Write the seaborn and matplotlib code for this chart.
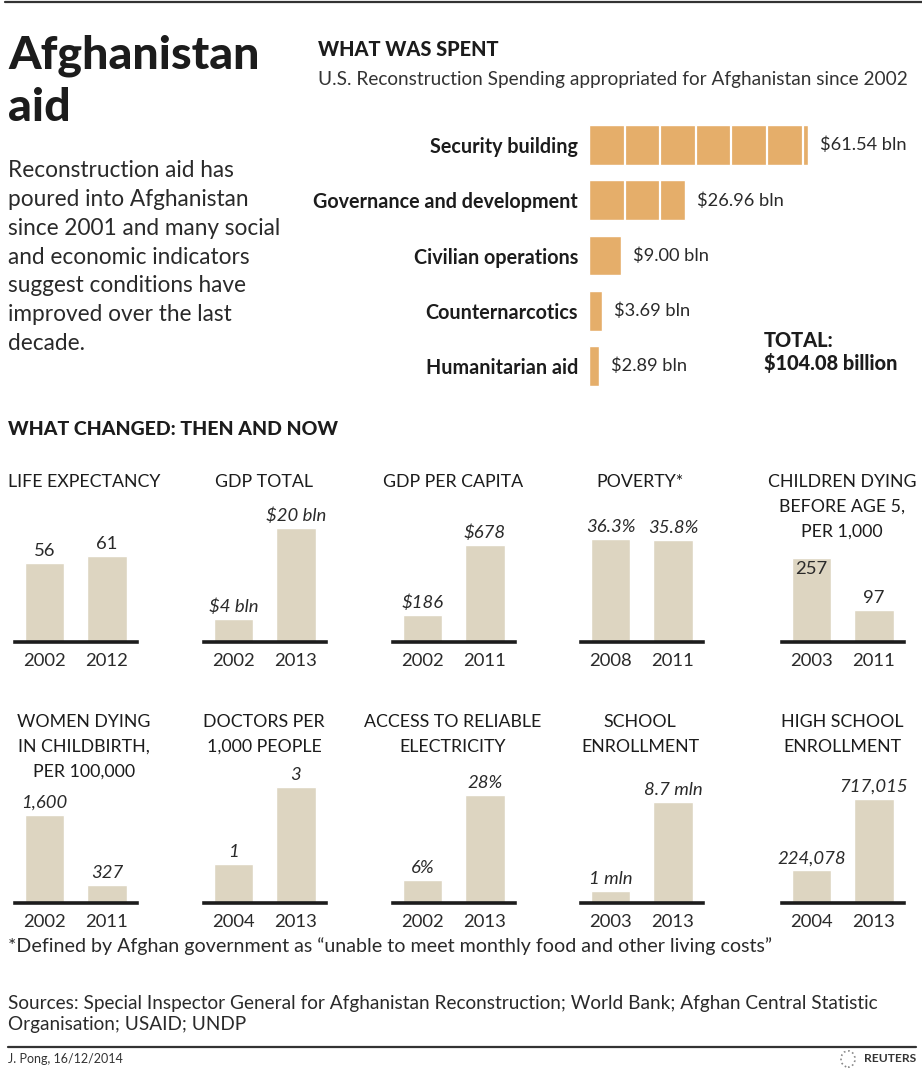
import matplotlib
matplotlib.use("Agg")
import matplotlib.pyplot as plt
import seaborn as sns
import pandas as pd

sns.set_theme(style="white")
plt.rcParams['font.family'] = ['Lato', 'DejaVu Sans']

# ---------------- data ----------------
spend_categories = ["Security building", "Governance and development",
                    "Civilian operations", "Counternarcotics", "Humanitarian aid"]
spend_values = [61.54, 26.96, 9.00, 3.69, 2.89]
spend_labels = ["$61.54 bln", "$26.96 bln", "$9.00 bln", "$3.69 bln", "$2.89 bln"]
total_label = "TOTAL:\n$104.08 billion"

panel_titles = ["LIFE EXPECTANCY", "GDP TOTAL", "GDP PER CAPITA", "POVERTY*",
                "CHILDREN DYING\nBEFORE AGE 5,\nPER 1,000",
                "WOMEN DYING\nIN CHILDBIRTH,\nPER 100,000",
                "DOCTORS PER\n1,000 PEOPLE",
                "ACCESS TO RELIABLE\nELECTRICITY",
                "SCHOOL\nENROLLMENT",
                "HIGH SCHOOL\nENROLLMENT"]
panel_years = [["2002", "2012"], ["2002", "2013"], ["2002", "2011"], ["2008", "2011"],
               ["2003", "2011"], ["2002", "2011"], ["2004", "2013"], ["2002", "2013"],
               ["2003", "2013"], ["2004", "2013"]]
panel_values = [[56, 61], [4, 20], [186, 678], [36.3, 35.8], [257, 97],
                [1600, 327], [1, 3], [6, 28], [1, 8.7], [224078, 717015]]
panel_labels = [["56", "61"], ["$4 bln", "$20 bln"], ["$186", "$678"],
                ["36.3%", "35.8%"], ["257", "97"], ["1,600", "327"], ["1", "3"],
                ["6%", "28%"], ["1 mln", "8.7 mln"], ["224,078", "717,015"]]
panel_italic = [False, True, True, True, False, True, True, True, True, True]

# ---------------- styles / layout ----------------
W, H = 922, 1070
DARK = "#1c1c1c"
TXT = "#2a2a2a"
ORANGE = "#e5ae6a"
BEIGE = "#ddd5c1"
max_bar_px = [86, 114, 97, 103, 84, 88, 116, 108, 101, 104]
col_centers = [76, 265, 454, 642, 843]
title_centers = [84, 264, 453, 640, 842]
row_baselines = [642, 903]
row_title_tops = [474, 714]
label_inside = [[False, False]] * 4 + [[True, False]] + [[False, False]] * 5


def px(v):
    return v * 72 / 100.0


fig = plt.figure(figsize=(W / 100, H / 100), dpi=100)
fig.patch.set_facecolor("white")


def ftext(x, y, s, size, weight="normal", ha="left", va="center", color=DARK, **kw):
    fig.text(x / W, 1 - y / H, s, fontsize=px(size), fontweight=weight, ha=ha, va=va,
             color=color, **kw)


def hline(y, x0, x1, lw, color=DARK):
    fig.add_artist(plt.Line2D([x0 / W, x1 / W], [1 - y / H, 1 - y / H],
                              color=color, lw=lw, transform=fig.transFigure))


# top rule
hline(2, 5, 922, 1.6, "#333333")

# title block
ftext(8, 82, "Afghanistan\naid", 46.5, weight="black", va="center", linespacing=1.3)
ftext(8, 257, "Reconstruction aid has\npoured into Afghanistan\nsince 2001 and many social\n"
      "and economic indicators\nsuggest conditions have\nimproved over the last\ndecade.",
      22.6, va="center", linespacing=1.46, color=TXT)

ftext(318, 50, "WHAT WAS SPENT", 20, weight="black")
ftext(318, 80, "U.S. Reconstruction Spending appropriated for Afghanistan since 2002", 19,
      color="#333333")

# ---------------- horizontal bar chart ----------------
ax_left, ax_top, ax_bot = 589, 117.4, 393.6
ppb = 3.56  # px per billion
xmax = 90
axh = fig.add_axes([ax_left / W, 1 - ax_bot / H, xmax * ppb / W, (ax_bot - ax_top) / H])
spend_df = pd.DataFrame({"cat": spend_categories, "val": spend_values})
sns.barplot(data=spend_df, x="val", y="cat", orient="h", color=ORANGE, saturation=1,
            width=0.72, ax=axh)
axh.set_xlim(0, xmax)
axh.set_ylim(4.5, -0.5)
for i, v in enumerate(spend_values):
    k = 10
    while k < v:
        axh.vlines(k, i - 0.36, i + 0.36, color="white", lw=1.6)
        k += 10
    axh.annotate(spend_labels[i], (v, i), xytext=(px(12), 0), textcoords="offset points",
                 ha="left", va="center", fontsize=px(18.3), color=TXT)
axh.set_xlabel("")
axh.set_ylabel("")
axh.set_xticks([])
axh.tick_params(axis="y", length=0, pad=px(11))
for t in axh.get_yticklabels():
    t.set_fontweight("bold")
    t.set_fontsize(px(19.8))
    t.set_color(DARK)
for s in axh.spines.values():
    s.set_visible(False)
axh.patch.set_alpha(0)

ftext(764, 352, total_label, 20, weight="black", linespacing=1.15)

# ---------------- then and now ----------------
ftext(8, 430, "WHAT CHANGED: THEN AND NOW", 19.5, weight="black")

axw = 122
axhpx = 170
for p in range(10):
    r, c = divmod(p, 5)
    base = row_baselines[r]
    left = col_centers[c] - axw / 2
    ax = fig.add_axes([left / W, 1 - base / H, axw / W, axhpx / H])
    df = pd.DataFrame({"year": panel_years[p], "val": panel_values[p]})
    sns.barplot(data=df, x="year", y="val", color=BEIGE, saturation=1, width=0.63, ax=ax)
    vmax = max(panel_values[p])
    ax.set_ylim(0, vmax * axhpx / max_bar_px[p])
    ax.set_xlim(-0.47, 1.48)
    for i, v in enumerate(panel_values[p]):
        style = "italic" if panel_italic[p] else "normal"
        if label_inside[p][i]:
            ax.annotate(panel_labels[p][i], (i, v), xytext=(0, -px(3)),
                        textcoords="offset points", ha="center", va="top",
                        fontsize=px(18.5), style=style, color=TXT)
        else:
            ax.annotate(panel_labels[p][i], (i, v), xytext=(0, px(4)),
                        textcoords="offset points", ha="center", va="bottom",
                        fontsize=px(18.5), style=style, color=TXT)
    ax.set_xlabel("")
    ax.set_ylabel("")
    ax.set_yticks([])
    ax.tick_params(axis="x", length=0, pad=px(11), labelsize=px(18.5), labelcolor=TXT)
    for s in ["top", "left", "right"]:
        ax.spines[s].set_visible(False)
    ax.spines["bottom"].set_linewidth(2.6)
    ax.spines["bottom"].set_color(DARK)
    ax.patch.set_alpha(0)
    ftext(title_centers[c], row_title_tops[r], panel_titles[p], 17.8,
          ha="center", va="top", linespacing=1.66)

# ---------------- footer ----------------
ftext(8, 946, "*Defined by Afghan government as \u201cunable to meet monthly food and other living costs\u201d",
      19.7, color=TXT)
ftext(8, 1014, "Sources: Special Inspector General for Afghanistan Reconstruction; World Bank; Afghan Central Statistic\n"
      "Organisation; USAID; UNDP", 19, color=TXT, linespacing=1.3)
hline(1047, 8, 916, 1.6, "#333333")
ftext(8, 1059, "J. Pong, 16/12/2014", 12.5, color="#333333")
ftext(916, 1059, "REUTERS", 12, weight="bold", ha="right", color="#333333")
fig.add_artist(plt.Circle((848 / W, 1 - 1059 / H), 7 / W, transform=fig.transFigure,
                          facecolor="white", edgecolor="#888888", lw=1.2, ls=":"))

fig.savefig("out.png", dpi=100, facecolor="white")
